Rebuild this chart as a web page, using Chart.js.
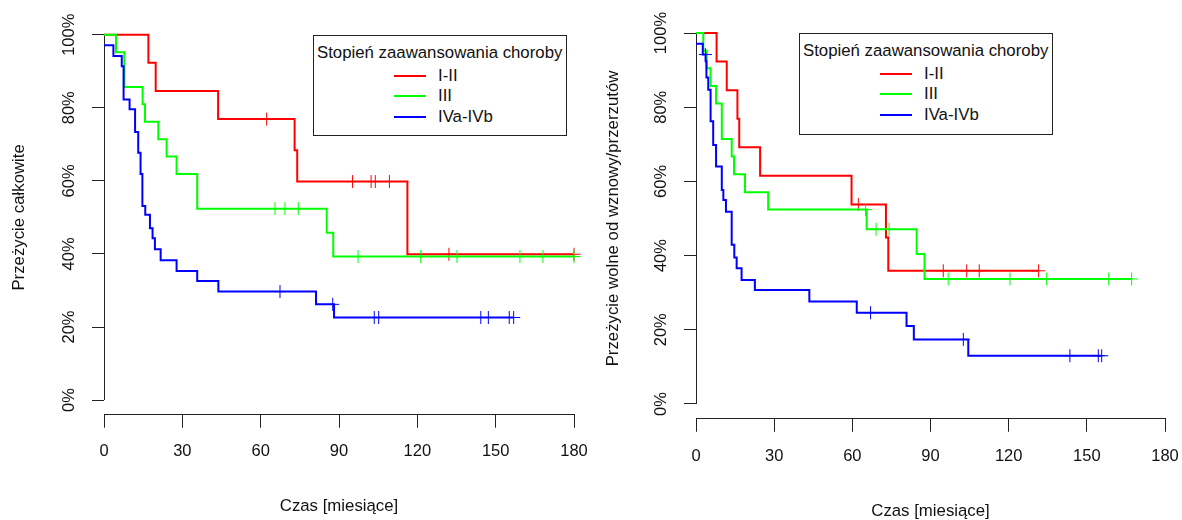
<!DOCTYPE html>
<html><head><meta charset="utf-8">
<script src="https://cdn.jsdelivr.net/npm/chart.js@4.4.1/dist/chart.umd.min.js"></script>
<style>
html,body{margin:0;padding:0;background:#fff;}
#wrap{position:relative;width:1182px;height:520px;overflow:hidden;font-family:'Liberation Sans',Arial,sans-serif;}
canvas{position:absolute;top:0;}
.leg{position:absolute;border:1px solid #222;box-sizing:border-box;background:#fff;}
.leg .t{position:absolute;white-space:nowrap;font-size:16.8px;line-height:20px;color:#111;}
.leg .s{position:absolute;height:2px;}
</style></head><body>
<div id="wrap">
<canvas id="c1" width="591" height="520" style="left:0"></canvas>
<canvas id="c2" width="591" height="520" style="left:591px"></canvas>
</div>
<script>
// ---------- data ----------
const X_TICKS = [0, 30, 60, 90, 120, 150, 180];
const Y_TICKS = [0, 20, 40, 60, 80, 100];
const Y_TICK_LABELS = ['0%', '20%', '40%', '60%', '80%', '100%'];
const STAGES = ['I-II', 'III', 'IVa-IVb'];
const LEGEND_TITLE = 'Stopień zaawansowania choroby';
const X_TITLE = 'Czas [miesiące]';

// Przeżycie całkowite (left panel)
const os12Time = [0, 17.0, 19.8, 43.7, 73.0, 74.0, 116.2, 180];
const os12Surv = [100, 92.3, 84.6, 76.9, 68.4, 59.8, 39.9, 39.9];
const os12Cens = [62.3, 95.2, 102.3, 103.9, 109.3, 132.1, 180];
const os3Time = [0, 4.6, 7.8, 14.8, 15.7, 20.8, 24.0, 27.8, 35.7, 85.3, 87.8, 180];
const os3Surv = [100, 95.2, 85.7, 81.0, 76.2, 71.4, 66.7, 61.9, 52.4, 45.8, 39.3, 39.3];
const os3Cens = [65.5, 69.3, 74.4, 97.3, 121.3, 135.2, 159.3, 168.1, 180];
const os4Time = [0, 3.6, 6.8, 7.5, 9.8, 11.9, 13.1, 14.0, 14.7, 15.8, 17.6, 18.6, 19.5, 21.7, 27.8, 35.7, 43.8, 81.2, 88.1, 156.9];
const os4Surv = [97.1, 94.2, 91.4, 82.3, 79.6, 73.4, 67.7, 61.9, 53.1, 50.7, 47.0, 44.3, 41.3, 38.3, 35.3, 32.6, 29.7, 26.2, 22.6, 22.6];
const os4Cens = [67.4, 87.6, 103.5, 105.2, 144.3, 147.2, 155.2, 156.9];

// Przeżycie wolne od wznowy/przerzutów (right panel)
const rfs12Time = [0, 7.9, 11.8, 15.9, 16.6, 24.6, 59.7, 72.9, 73.8, 131.5];
const rfs12Surv = [100, 92.3, 84.6, 76.9, 69.2, 61.5, 53.8, 44.9, 35.9, 35.9];
const rfs12Cens = [62.3, 94.9, 103.9, 108.7, 131.5];
const rfs3Time = [0, 2.8, 4.1, 5.6, 7.7, 9.9, 13.7, 14.6, 18.8, 27.7, 65.5, 84.7, 87.7, 167.2];
const rfs3Surv = [100, 95.2, 90.5, 85.7, 81.0, 71.4, 66.7, 61.9, 57.1, 52.4, 47.1, 40.4, 33.7, 33.7];
const rfs3Cens = [65.1, 69.1, 74.1, 96.8, 120.5, 134.6, 158.4, 167.2];
const rfs4Time = [0, 2.6, 3.7, 4.0, 4.7, 5.6, 6.6, 7.7, 9.9, 10.5, 11.5, 13.7, 14.7, 15.6, 17.5, 22.6, 43.5, 61.7, 80.8, 83.6, 104.5, 155.7];
const rfs4Surv = [97.1, 94.2, 92.4, 88.0, 84.7, 76.2, 69.8, 64.0, 57.7, 55.0, 51.8, 42.9, 39.5, 36.6, 33.4, 30.7, 27.6, 24.6, 21.0, 17.4, 13.0, 13.0];
const rfs4Cens = [3.6, 67.0, 102.6, 143.5, 154.4, 155.7];

// ---------- style ----------
const COLORS = ['#ff0000', '#00ff00', '#0000ff'];
const FONT = "'Liberation Sans', Arial, sans-serif";
const AXIS_COLOR = '#222';
const TEXT_COLOR = '#111';
Chart.defaults.font.family = FONT;
Chart.defaults.color = TEXT_COLOR;

function kmPoints(times, surv) {
  return times.map((t, i) => ({x: t, y: surv[i]}));
}
function survAt(times, surv, t) {
  let v = surv[0];
  for (let i = 0; i < times.length; i++) { if (times[i] <= t) v = surv[i]; }
  return v;
}
function censPoints(cens, times, surv) {
  return cens.map(t => ({x: t, y: survAt(times, surv, t)}));
}

function alignPx(p) { return Math.round(p - 0.5) + 0.5; }

const rAxisPlugin = {
  id: 'rAxis',
  beforeDatasetsDraw(chart) {
    const {ctx, scales: {y}, chartArea} = chart;
    const xl = alignPx(chartArea.left);
    ctx.save();
    ctx.strokeStyle = AXIS_COLOR;
    ctx.lineWidth = 1;
    ctx.beginPath();
    ctx.moveTo(xl, y.getPixelForValue(Y_TICKS[0]));
    ctx.lineTo(xl, y.getPixelForValue(Y_TICKS[Y_TICKS.length - 1]));
    ctx.stroke();
    ctx.fillStyle = TEXT_COLOR;
    ctx.font = '16.5px ' + FONT;
    ctx.textAlign = 'center';
    ctx.textBaseline = 'middle';
    Y_TICKS.forEach((v, i) => {
      ctx.save();
      ctx.translate(chartArea.left - 34.5, y.getPixelForValue(v));
      ctx.rotate(-Math.PI / 2);
      ctx.fillText(Y_TICK_LABELS[i], 0, 0);
      ctx.restore();
    });
    ctx.restore();
  }
};

function makeChart(id, series, L) {
  const datasets = [];
  series.forEach((s, i) => {
    datasets.push({
      label: STAGES[i], data: kmPoints(s.time, s.surv), borderColor: COLORS[i],
      borderWidth: 2, stepped: true, pointRadius: 0, fill: false, clip: false,
      order: 10 - 2 * i
    });
    datasets.push({
      label: STAGES[i] + ' censored', data: censPoints(s.cens, s.time, s.surv),
      borderColor: COLORS[i], backgroundColor: COLORS[i], showLine: false,
      pointStyle: 'cross', pointRadius: 6.5, pointBorderWidth: 1, clip: false,
      order: 9 - 2 * i
    });
  });
  return new Chart(document.getElementById(id), {
    type: 'line',
    data: {datasets},
    options: {
      responsive: false, animation: false, events: [],
      layout: {padding: {left: 0, right: L.padRight, top: L.top, bottom: 0}},
      plugins: {legend: {display: false}, tooltip: {enabled: false}},
      scales: {
        x: {
          type: 'linear', min: X_TICKS[0], max: X_TICKS[X_TICKS.length - 1],
          afterBuildTicks: sc => { sc.ticks = X_TICKS.map(v => ({value: v})); },
          afterFit: sc => { sc.height = 520 - L.bottom; sc.paddingLeft = 0; sc.paddingRight = 0; },
          grid: {display: true, drawOnChartArea: false, drawTicks: true, tickLength: 13, color: AXIS_COLOR, lineWidth: 1},
          border: {display: true, color: AXIS_COLOR, width: 1},
          ticks: {font: {size: 16.5, lineHeight: 1}, color: TEXT_COLOR, padding: 16, maxRotation: 0, autoSkip: false},
          title: {display: true, text: X_TITLE, font: {size: 16.8, lineHeight: 1}, color: TEXT_COLOR, padding: {top: 0, bottom: L.xTitlePad}}
        },
        y: {
          type: 'linear', min: -4, max: 104,
          afterBuildTicks: sc => { sc.ticks = Y_TICKS.map(v => ({value: v})); },
          afterFit: sc => { sc.width = L.left; sc.paddingTop = 0; sc.paddingBottom = 0; },
          grid: {display: true, drawOnChartArea: false, drawTicks: true, tickLength: 12, color: AXIS_COLOR, lineWidth: 1},
          border: {display: false},
          ticks: {display: false},
          title: {display: true, text: L.yTitle, font: {size: 16.8, lineHeight: 1}, color: TEXT_COLOR, padding: {top: L.yTitlePad, bottom: 0}}
        }
      }
    },
    plugins: [rAxisPlugin]
  });
}

makeChart('c1', [
  {time: os12Time, surv: os12Surv, cens: os12Cens},
  {time: os3Time, surv: os3Surv, cens: os3Cens},
  {time: os4Time, surv: os4Surv, cens: os4Cens}
], {left: 104, padRight: 17, top: 20.1, bottom: 414.7, yTitle: 'Przeżycie całkowite', yTitlePad: 10.6, xTitlePad: 5.6});

makeChart('c2', [
  {time: rfs12Time, surv: rfs12Surv, cens: rfs12Cens},
  {time: rfs3Time, surv: rfs3Surv, cens: rfs3Cens},
  {time: rfs4Time, surv: rfs4Surv, cens: rfs4Cens}
], {left: 105, padRight: 17, top: 18.2, bottom: 418.8, yTitle: 'Przeżycie wolne od wznowy/przerzutów', yTitlePad: 13.6, xTitlePad: 0});

// ---------- legends (R style boxes) ----------
function makeLegend(box) {
  const wrap = document.getElementById('wrap');
  const d = document.createElement('div');
  d.className = 'leg';
  Object.assign(d.style, {left: box.x + 'px', top: box.y + 'px', width: box.w + 'px', height: box.h + 'px'});
  const t = document.createElement('div');
  t.className = 't'; t.textContent = LEGEND_TITLE;
  Object.assign(t.style, {left: '3px', top: (17 - 10) + 'px'});
  d.appendChild(t);
  const rows = [39.5, 60, 81];
  STAGES.forEach((name, i) => {
    const s = document.createElement('div');
    s.className = 's';
    Object.assign(s.style, {left: '80px', width: '32px', top: (rows[i] - 1) + 'px', background: COLORS[i]});
    d.appendChild(s);
    const l = document.createElement('div');
    l.className = 't'; l.textContent = name;
    Object.assign(l.style, {left: '124px', top: (rows[i] - 10) + 'px'});
    d.appendChild(l);
  });
  wrap.appendChild(d);
}
makeLegend({x: 313, y: 35, w: 254, h: 101});
makeLegend({x: 799, y: 33, w: 254, h: 102});
</script>
</body></html>
